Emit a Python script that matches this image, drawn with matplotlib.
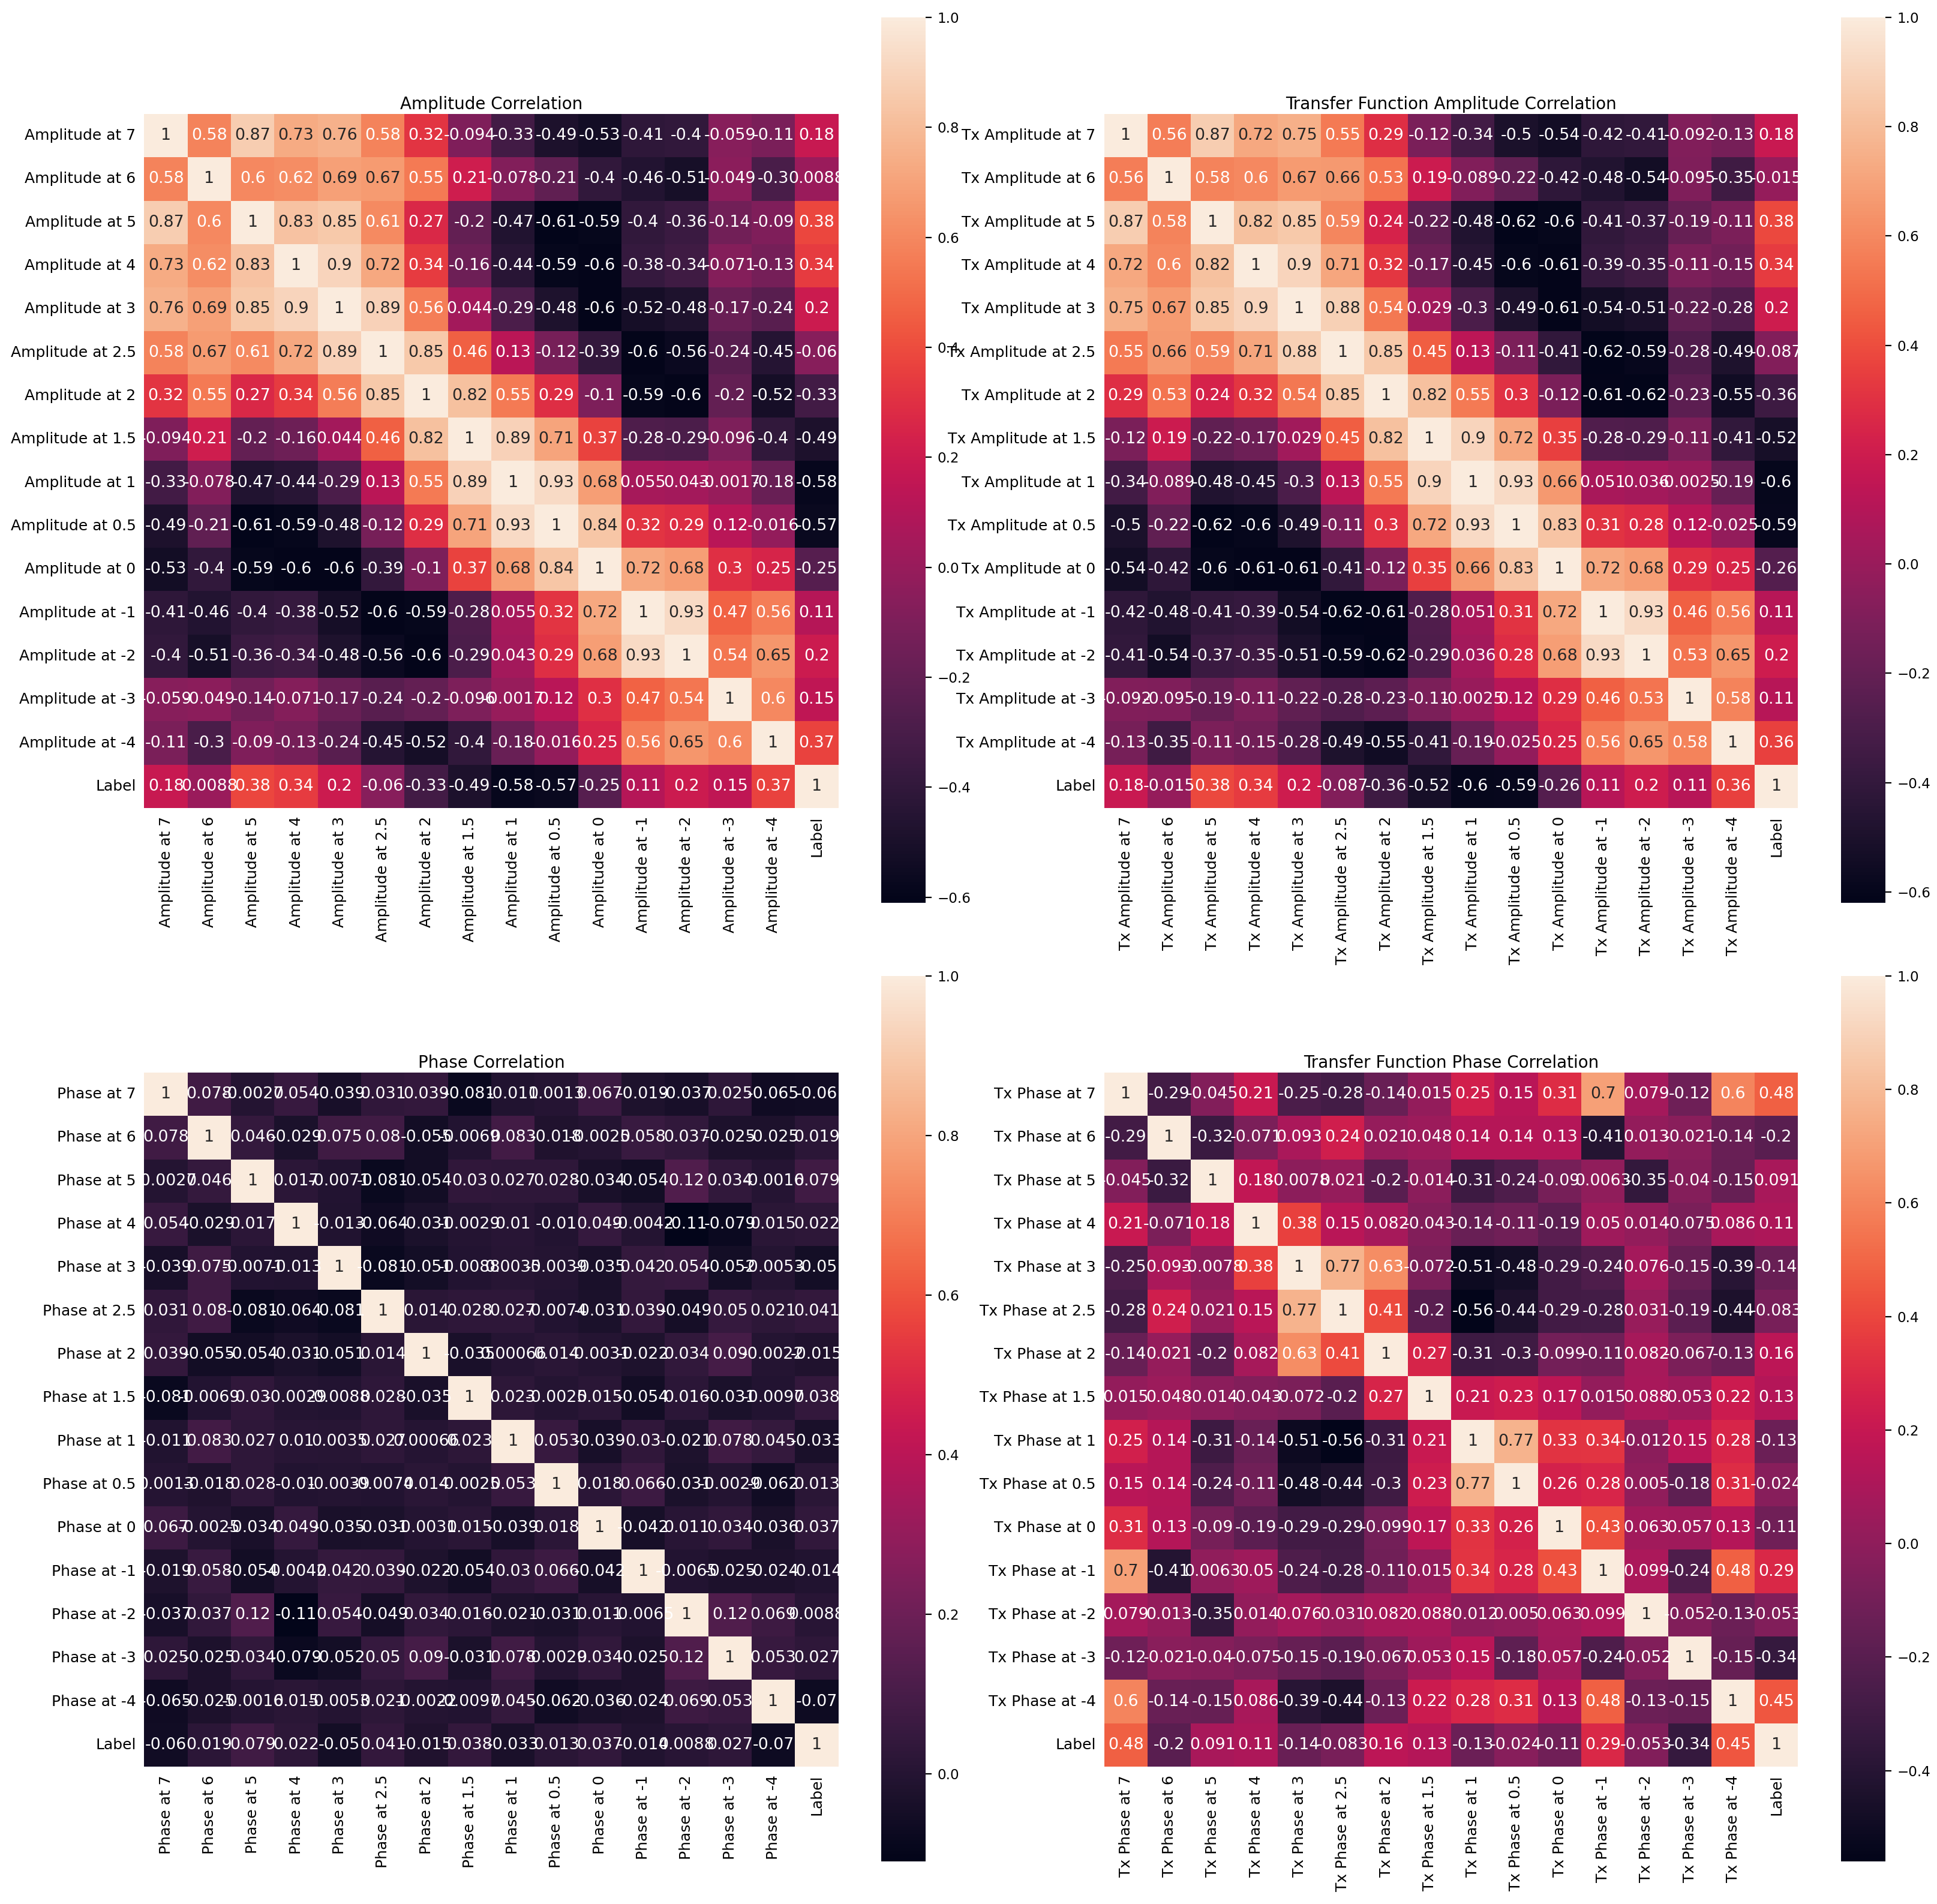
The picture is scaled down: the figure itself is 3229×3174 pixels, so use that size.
import numpy as np
import pandas as pd
import matplotlib
matplotlib.use("Agg")
import matplotlib.pyplot as plt
import seaborn as sns

levels = ['7', '6', '5', '4', '3', '2.5', '2', '1.5', '1', '0.5', '0', '-1', '-2', '-3', '-4']
amp_labels = [f'Amplitude at {l}' for l in levels] + ['Label']
tx_amp_labels = [f'Tx Amplitude at {l}' for l in levels] + ['Label']
phase_labels = [f'Phase at {l}' for l in levels] + ['Label']
tx_phase_labels = [f'Tx Phase at {l}' for l in levels] + ['Label']

# upper triangles (row i lists correlations with columns j > i)
amp_upper = [
    [0.58, 0.87, 0.73, 0.76, 0.58, 0.32, -0.094, -0.33, -0.49, -0.53, -0.41, -0.4, -0.059, -0.11, 0.18],
    [0.6, 0.62, 0.69, 0.67, 0.55, 0.21, -0.078, -0.21, -0.4, -0.46, -0.51, -0.049, -0.3, 0.0088],
    [0.83, 0.85, 0.61, 0.27, -0.2, -0.47, -0.61, -0.59, -0.4, -0.36, -0.14, -0.09, 0.38],
    [0.9, 0.72, 0.34, -0.16, -0.44, -0.59, -0.6, -0.38, -0.34, -0.071, -0.13, 0.34],
    [0.89, 0.56, 0.044, -0.29, -0.48, -0.6, -0.52, -0.48, -0.17, -0.24, 0.2],
    [0.85, 0.46, 0.13, -0.12, -0.39, -0.6, -0.56, -0.24, -0.45, -0.06],
    [0.82, 0.55, 0.29, -0.1, -0.59, -0.6, -0.2, -0.52, -0.33],
    [0.89, 0.71, 0.37, -0.28, -0.29, -0.096, -0.4, -0.49],
    [0.93, 0.68, 0.055, 0.043, -0.0017, -0.18, -0.58],
    [0.84, 0.32, 0.29, 0.12, -0.016, -0.57],
    [0.72, 0.68, 0.3, 0.25, -0.25],
    [0.93, 0.47, 0.56, 0.11],
    [0.54, 0.65, 0.2],
    [0.6, 0.15],
    [0.37],
]

tx_amp_upper = [
    [0.56, 0.87, 0.72, 0.75, 0.55, 0.29, -0.12, -0.34, -0.5, -0.54, -0.42, -0.41, -0.092, -0.13, 0.18],
    [0.58, 0.6, 0.67, 0.66, 0.53, 0.19, -0.089, -0.22, -0.42, -0.48, -0.54, -0.095, -0.35, -0.015],
    [0.82, 0.85, 0.59, 0.24, -0.22, -0.48, -0.62, -0.6, -0.41, -0.37, -0.19, -0.11, 0.38],
    [0.9, 0.71, 0.32, -0.17, -0.45, -0.6, -0.61, -0.39, -0.35, -0.11, -0.15, 0.34],
    [0.88, 0.54, 0.029, -0.3, -0.49, -0.61, -0.54, -0.51, -0.22, -0.28, 0.2],
    [0.85, 0.45, 0.13, -0.11, -0.41, -0.62, -0.59, -0.28, -0.49, -0.087],
    [0.82, 0.55, 0.3, -0.12, -0.61, -0.62, -0.23, -0.55, -0.36],
    [0.9, 0.72, 0.35, -0.28, -0.29, -0.11, -0.41, -0.52],
    [0.93, 0.66, 0.051, 0.036, -0.0025, -0.19, -0.6],
    [0.83, 0.31, 0.28, 0.12, -0.025, -0.59],
    [0.72, 0.68, 0.29, 0.25, -0.26],
    [0.93, 0.46, 0.56, 0.11],
    [0.53, 0.65, 0.2],
    [0.58, 0.11],
    [0.36],
]

phase_upper = [
    [0.078, -0.0027, 0.054, -0.039, 0.031, 0.039, -0.081, -0.011, 0.0013, 0.067, -0.019, -0.037, 0.025, -0.065, -0.06],
    [0.046, -0.029, 0.075, 0.08, -0.055, -0.0069, 0.083, -0.018, -0.0025, 0.058, 0.037, -0.025, -0.025, 0.019],
    [0.017, -0.0071, -0.081, -0.054, 0.03, 0.027, 0.028, -0.034, -0.054, 0.12, 0.034, -0.0016, 0.079],
    [-0.013, -0.064, -0.031, -0.0029, 0.01, -0.01, 0.049, -0.0042, -0.11, -0.079, 0.015, 0.022],
    [-0.081, -0.051, -0.0088, 0.0035, -0.0039, -0.035, 0.042, 0.054, -0.052, -0.0053, -0.05],
    [0.014, 0.028, 0.027, -0.0074, -0.031, 0.039, -0.049, 0.05, 0.021, 0.041],
    [-0.035, 0.00066, 0.014, -0.0031, -0.022, 0.034, 0.09, -0.0022, -0.015],
    [0.023, -0.0025, 0.015, -0.054, 0.016, -0.031, -0.0097, 0.038],
    [0.053, -0.039, 0.03, -0.021, 0.078, 0.045, -0.033],
    [0.018, 0.066, -0.031, -0.0029, -0.062, 0.013],
    [-0.042, 0.011, 0.034, -0.036, 0.037],
    [-0.0065, -0.025, -0.024, -0.014],
    [0.12, 0.069, 0.0088],
    [0.053, 0.027],
    [-0.07],
]

tx_phase_upper = [
    [-0.29, -0.045, 0.21, -0.25, -0.28, -0.14, 0.015, 0.25, 0.15, 0.31, 0.7, 0.079, -0.12, 0.6, 0.48],
    [-0.32, -0.071, 0.093, 0.24, 0.021, 0.048, 0.14, 0.14, 0.13, -0.41, 0.013, -0.021, -0.14, -0.2],
    [0.18, -0.0078, 0.021, -0.2, -0.014, -0.31, -0.24, -0.09, 0.0063, -0.35, -0.04, -0.15, 0.091],
    [0.38, 0.15, 0.082, -0.043, -0.14, -0.11, -0.19, 0.05, 0.014, -0.075, 0.086, 0.11],
    [0.77, 0.63, -0.072, -0.51, -0.48, -0.29, -0.24, 0.076, -0.15, -0.39, -0.14],
    [0.41, -0.2, -0.56, -0.44, -0.29, -0.28, 0.031, -0.19, -0.44, -0.083],
    [0.27, -0.31, -0.3, -0.099, -0.11, 0.082, -0.067, -0.13, 0.16],
    [0.21, 0.23, 0.17, 0.015, 0.088, 0.053, 0.22, 0.13],
    [0.77, 0.33, 0.34, -0.012, 0.15, 0.28, -0.13],
    [0.26, 0.28, 0.005, -0.18, 0.31, -0.024],
    [0.43, 0.063, 0.057, 0.13, -0.11],
    [0.099, -0.24, 0.48, 0.29],
    [-0.052, -0.13, -0.053],
    [-0.15, -0.34],
    [0.45],
]

titles = ['Amplitude Correlation', 'Transfer Function Amplitude Correlation',
          'Phase Correlation', 'Transfer Function Phase Correlation']


def build_matrix(upper, labels):
    n = len(labels)
    m = np.eye(n)
    for i, row in enumerate(upper):
        for k, v in enumerate(row):
            j = i + 1 + k
            m[i, j] = v
            m[j, i] = v
    return pd.DataFrame(m, index=labels, columns=labels)


frames = [build_matrix(amp_upper, amp_labels), build_matrix(tx_amp_upper, tx_amp_labels),
          build_matrix(phase_upper, phase_labels), build_matrix(tx_phase_upper, tx_phase_labels)]

W, H = 3230, 3174
DPI = 200
fig = plt.figure(figsize=(W / DPI, H / DPI), dpi=DPI)


def frac_box(x0, y0, x1, y1):
    return [x0 / W, 1 - y1 / H, (x1 - x0) / W, (y1 - y0) / H]


heat_boxes = [(240, 190, 1398, 1347), (1840, 190, 2998, 1347),
              (240, 1788, 1398, 2945), (1840, 1788, 2998, 2945)]
cbar_boxes = [(1469, 29, 1543, 1505), (3069, 29, 3143, 1505),
              (1469, 1627, 1543, 3103), (3069, 1627, 3143, 3103)]

for df, title, hb, cb in zip(frames, titles, heat_boxes, cbar_boxes):
    ax = fig.add_axes(frac_box(*hb))
    cax = fig.add_axes(frac_box(*cb))
    sns.heatmap(df, annot=True, square=True, ax=ax, cbar_ax=cax,
                xticklabels=list(df.columns), yticklabels=list(df.index),
                annot_kws={'size': 9.7})
    ax.set_title(title, fontsize=10, pad=3)
    ax.tick_params(axis='both', labelsize=9, length=0, pad=5)
    plt.setp(ax.get_xticklabels(), rotation=90)
    plt.setp(ax.get_yticklabels(), rotation=0)
    cax.tick_params(labelsize=8.3)

fig.savefig('out.png', dpi=DPI)
